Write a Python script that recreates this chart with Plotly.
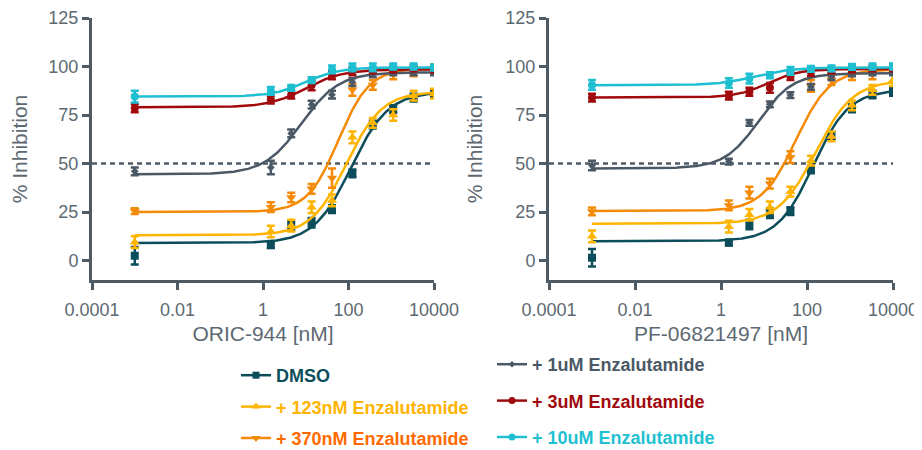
import numpy as np
import plotly.graph_objects as go

# ---------------- data ----------------
conc = [0.001, 1.524, 4.572, 13.72, 41.15, 123.5, 370.4, 1111, 3333, 10000]

series_names = ["DMSO", "+ 1uM Enzalutamide", "+ 123nM Enzalutamide",
                "+ 3uM Enzalutamide", "+ 370nM Enzalutamide", "+ 10uM Enzalutamide"]
series_keys = ["dmso", "e1u", "e123n", "e3u", "e370n", "e10u"]

# left panel: ORIC-944
left_dmso  = [2.5, 8.0, 18.0, 19.5, 26.5, 45.0, 70.0, 78.0, 84.0, 86.0]
left_e123n = [9.5, 15.0, 18.0, 27.5, 31.0, 63.5, 71.0, 75.0, 85.0, 86.0]
left_e370n = [25.5, 27.5, 32.5, 37.0, 42.5, 88.0, 90.5, 96.0, 97.5, 99.0]
left_e1u   = [46.0, 48.0, 65.5, 80.4, 85.5, 92.0, 96.0, 97.0, 97.0, 97.0]
left_e3u   = [78.5, 83.0, 85.5, 90.3, 95.5, 97.5, 98.0, 98.5, 99.0, 98.5]
left_e10u  = [84.5, 87.5, 89.0, 93.0, 98.5, 99.5, 99.5, 100.0, 100.0, 99.5]

left_err_dmso  = [4.5, 1.5, 2.5, 2.5, 2.0, 2.0, 2.0, 2.0, 2.0, 2.0]
left_err_e123n = [3.0, 3.0, 3.0, 3.0, 3.0, 3.0, 2.5, 3.0, 2.5, 2.5]
left_err_e370n = [1.5, 2.5, 2.5, 2.5, 5.0, 3.0, 2.5, 2.5, 2.5, 2.0]
left_err_e1u   = [2.0, 3.5, 2.0, 2.0, 2.0, 2.0, 1.5, 1.5, 1.5, 1.5]
left_err_e3u   = [2.0, 2.0, 2.0, 2.5, 2.0, 2.0, 1.5, 1.5, 1.5, 1.5]
left_err_e10u  = [3.0, 2.0, 1.5, 1.5, 2.0, 2.0, 2.0, 1.5, 1.5, 1.5]

# right panel: PF-06821497
right_dmso  = [1.5, 9.3, 18.6, 24.5, 25.5, 47.0, 64.3, 78.5, 85.6, 87.0]
right_e123n = [12.5, 17.5, 23.6, 27.5, 35.5, 51.5, 64.0, 80.0, 88.0, 93.0]
right_e370n = [25.3, 28.4, 35.0, 39.7, 53.3, 90.0, 93.0, 95.5, 96.5, 98.0]
right_e1u   = [49.0, 51.0, 71.0, 80.5, 85.3, 89.5, 94.6, 96.5, 97.0, 97.0]
right_e3u   = [84.0, 85.0, 87.0, 89.0, 95.0, 97.3, 98.0, 98.5, 99.0, 99.0]
right_e10u  = [90.5, 91.5, 93.8, 95.5, 97.8, 98.8, 99.0, 99.8, 100.0, 100.0]

right_err_dmso  = [4.5, 1.5, 2.5, 2.5, 2.0, 2.0, 2.0, 2.0, 2.0, 2.0]
right_err_e123n = [3.0, 3.0, 3.0, 3.0, 2.5, 2.5, 2.5, 2.5, 2.5, 3.0]
right_err_e370n = [2.0, 2.5, 3.0, 2.5, 3.0, 3.0, 2.5, 2.5, 3.0, 2.0]
right_err_e1u   = [2.5, 1.5, 1.5, 1.5, 1.5, 1.5, 1.5, 1.5, 1.5, 1.5]
right_err_e3u   = [2.0, 2.0, 2.0, 2.5, 2.0, 2.0, 1.5, 1.5, 1.5, 1.5]
right_err_e10u  = [2.5, 2.5, 2.5, 1.5, 2.0, 1.5, 1.5, 1.5, 1.5, 1.5]

# 4-parameter logistic fit parameters: bottom, top, EC50 [nM], Hill
left_fit = {
    "dmso":  (9.0, 87.0, 115.0, 1.0),
    "e123n": (13.0, 87.0, 90.0, 1.05),
    "e370n": (25.0, 99.0, 58.0, 1.2),
    "e1u":   (44.5, 97.0, 8.0, 1.0),
    "e3u":   (79.0, 98.5, 10.0, 1.0),
    "e10u":  (84.5, 99.5, 10.0, 1.1),
}
right_fit = {
    "dmso":  (10.0, 88.0, 140.0, 1.05),
    "e123n": (19.0, 93.0, 160.0, 1.0),
    "e370n": (25.5, 98.5, 55.0, 1.1),
    "e1u":   (47.5, 96.5, 7.5, 1.1),
    "e3u":   (84.0, 98.7, 12.0, 1.2),
    "e10u":  (90.3, 99.5, 6.0, 1.0),
}

x_tickvals = [1e-4, 1e-2, 1, 100, 1e4]
x_ticktext = ["0.0001", "0.01", "1", "100", "10000"]
y_tickvals = [0, 25, 50, 75, 100, 125]
x_titles = ["ORIC-944 [nM]", "PF-06821497 [nM]"]
ref_line = 50

# ---------------- styles ----------------
colors = {"dmso": "#0c4d5b", "e1u": "#4b5865", "e123n": "#ffb400",
          "e3u": "#a00a0c", "e370n": "#f58a07", "e10u": "#1fbfd2"}
text_colors = {"dmso": "#0c4d5b", "e1u": "#4b5865", "e123n": "#ffb400",
               "e3u": "#a00a0c", "e370n": "#ff6a00", "e10u": "#1fbfd2"}
symbols = {"dmso": "square", "e1u": "diamond", "e123n": "triangle-up",
           "e3u": "circle", "e370n": "triangle-down", "e10u": "circle"}
msize = {"dmso": 8, "e1u": 6, "e123n": 9, "e3u": 8, "e370n": 9, "e10u": 8}

left_vals = {"dmso": left_dmso, "e123n": left_e123n, "e370n": left_e370n,
             "e1u": left_e1u, "e3u": left_e3u, "e10u": left_e10u}
left_errs = {"dmso": left_err_dmso, "e123n": left_err_e123n, "e370n": left_err_e370n,
             "e1u": left_err_e1u, "e3u": left_err_e3u, "e10u": left_err_e10u}
right_vals = {"dmso": right_dmso, "e123n": right_e123n, "e370n": right_e370n,
              "e1u": right_e1u, "e3u": right_e3u, "e10u": right_e10u}
right_errs = {"dmso": right_err_dmso, "e123n": right_err_e123n, "e370n": right_err_e370n,
              "e1u": right_err_e1u, "e3u": right_err_e3u, "e10u": right_err_e10u}

AX = "#4e5a64"
TXT = "#5d6972"
FONT = "Liberation Sans, Arial, sans-serif"

fig = go.Figure()

xfit = np.logspace(np.log10(conc[0]), np.log10(conc[-1]), 300)


def logistic(x, p):
    b, t, ec, h = p
    return b + (t - b) / (1.0 + (ec / x) ** h)


draw_order = ["dmso", "e123n", "e370n", "e1u", "e3u", "e10u"]
for xa, ya, vals, errs, fits in [("x", "y", left_vals, left_errs, left_fit),
                                 ("x2", "y2", right_vals, right_errs, right_fit)]:
    for k in draw_order:
        fig.add_trace(go.Scatter(
            x=xfit, y=logistic(xfit, fits[k]), mode="lines",
            line=dict(color=colors[k], width=2.5), showlegend=False,
            hoverinfo="skip", xaxis=xa, yaxis=ya))
        fig.add_trace(go.Scatter(
            x=conc, y=vals[k], mode="markers",
            marker=dict(symbol=symbols[k], size=msize[k], color=colors[k]),
            error_y=dict(type="data", array=errs[k], color=colors[k],
                         thickness=2.5, width=4),
            showlegend=False, xaxis=xa, yaxis=ya))

# legend-only entries
legend_cols = {"dmso": "legend", "e123n": "legend", "e370n": "legend",
               "e1u": "legend2", "e3u": "legend2", "e10u": "legend2"}
for k, name in zip(series_keys, series_names):
    fig.add_trace(go.Scatter(
        x=[None], y=[None], mode="lines+markers",
        name=f"<span style='color:{text_colors[k]}'><b>{name}</b></span>",
        legend=legend_cols[k], legendgroup=k,
        line=dict(color=colors[k], width=2.5),
        marker=dict(symbol=symbols[k], size=msize[k] - 1, color=colors[k]),
        xaxis="x", yaxis="y"))

axis_common = dict(showline=True, linecolor=AX, linewidth=3, ticks="outside",
                   ticklen=7, tickwidth=3, tickcolor=AX, showgrid=False,
                   zeroline=False, automargin=False, ticklabeloverflow="allow",
                   tickfont=dict(size=18, color=TXT, family=FONT),
                   title_font=dict(size=21, color=TXT, family=FONT))

# the page body has an 8px margin: figure is offset by 8px, so work in page px - 8
OFF = 8
W, H = 922 - OFF, 450 - OFF


def px_x(p):
    return (p - OFF) / W


def px_y(p):
    return 1 - (p - OFF) / H


ydom = [px_y(280), px_y(18)]
fig.update_layout(
    width=W, height=H, autosize=False,
    margin=dict(l=0, r=0, t=0, b=0, autoexpand=False),
    paper_bgcolor="white", plot_bgcolor="white",
    font=dict(family=FONT, color=TXT),
    xaxis=dict(type="log", domain=[px_x(92), px_x(434)], range=[-4, 4],
               tickvals=x_tickvals, ticktext=x_ticktext, anchor="y",
               ticklabelstandoff=4,
               title=dict(text=x_titles[0], standoff=8), **axis_common),
    yaxis=dict(domain=ydom, range=[-10, 125], tickvals=y_tickvals, anchor="x",
               title=dict(text="% Inhibition", standoff=18), **axis_common),
    xaxis2=dict(type="log", domain=[px_x(549), px_x(893)], range=[-4, 4],
                tickvals=x_tickvals, ticktext=x_ticktext, anchor="y2",
                ticklabelstandoff=4,
                title=dict(text=x_titles[1], standoff=8), **axis_common),
    yaxis2=dict(domain=ydom, range=[-10, 125], tickvals=y_tickvals, anchor="x2",
                title=dict(text="% Inhibition", standoff=18), **axis_common),
    legend=dict(x=px_x(236), xanchor="left", y=px_y(357), yanchor="top",
                font=dict(size=18, family=FONT), tracegroupgap=5,
                bgcolor="rgba(0,0,0,0)", itemwidth=30),
    legend2=dict(x=px_x(492), xanchor="left", y=px_y(346), yanchor="top",
                 font=dict(size=18, family=FONT), tracegroupgap=10,
                 bgcolor="rgba(0,0,0,0)", itemwidth=30),
    showlegend=True,
)

for xr, yr in [("x", "y"), ("x2", "y2")]:
    fig.add_shape(type="line", xref=f"{xr} domain", yref=yr, x0=0, x1=1,
                  y0=ref_line, y1=ref_line, layer="below",
                  line=dict(color=AX, width=2.5, dash="5px,4px"))

fig.write_html("out.html")
